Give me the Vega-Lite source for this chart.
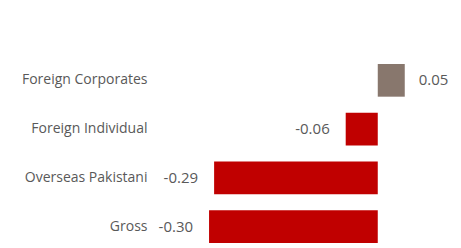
{
  "$schema": "https://vega.github.io/schema/vega-lite/v6.json",
  "width": 284,
  "height": 179,
  "autosize": {"type": "none"},
  "padding": {"left": 150, "top": 64, "right": 27, "bottom": 5},
  "config": {"view": {"stroke": null}, "font": "Open Sans"},
  "data": {"values": [
    {"category": "Foreign Corporates", "value": 0.048, "label": "0.05", "color": "#88776d"},
    {"category": "Foreign Individual", "value": -0.057, "label": "-0.06", "color": "#C00000"},
    {"category": "Overseas Pakistani", "value": -0.291, "label": "-0.29", "color": "#C00000"},
    {"category": "Gross", "value": -0.300, "label": "-0.30", "color": "#C00000"}
  ]},
  "encoding": {
    "y": {
      "field": "category", "type": "nominal", "sort": null,
      "scale": {"paddingInner": 0.33, "paddingOuter": 0},
      "axis": {"title": null, "domain": false, "ticks": false, "labelPadding": 3, "labelColor": "#595959", "labelFontSize": 14, "labelFont": "Open Sans"}
    },
    "x": {
      "field": "value", "type": "quantitative",
      "scale": {"domain": [-0.405, 0.1], "nice": false, "zero": false},
      "axis": null
    }
  },
  "layer": [
    {
      "mark": {"type": "bar"},
      "encoding": {
        "x2": {"datum": 0},
        "color": {"field": "color", "type": "nominal", "scale": null}
      }
    },
    {
      "transform": [{"filter": "datum.value < 0"}],
      "mark": {"type": "text", "align": "right", "baseline": "middle", "dx": -16, "fontSize": 15, "color": "#595959"},
      "encoding": {"text": {"field": "label"}}
    },
    {
      "transform": [{"filter": "datum.value >= 0"}],
      "mark": {"type": "text", "align": "left", "baseline": "middle", "dx": 14, "fontSize": 15, "color": "#595959"},
      "encoding": {"text": {"field": "label"}}
    }
  ]
}
